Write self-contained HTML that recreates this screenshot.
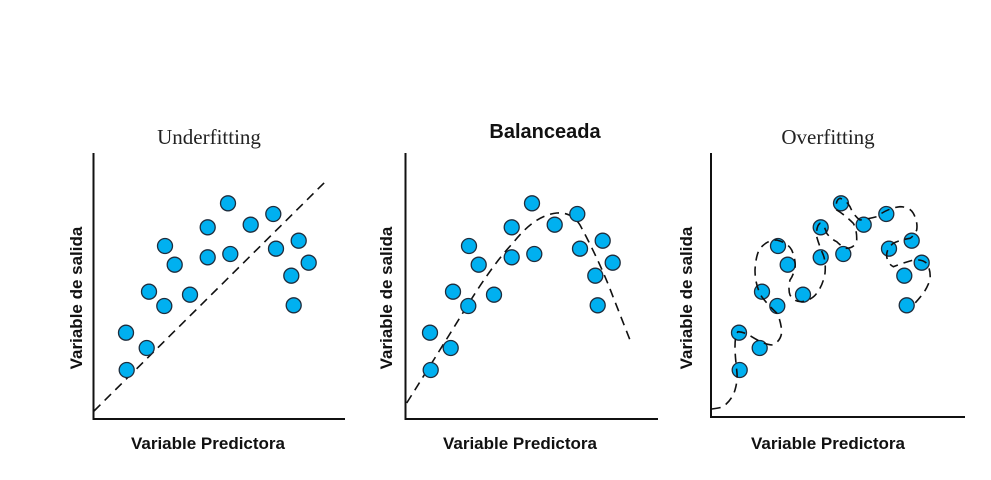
<!DOCTYPE html>
<html><head><meta charset="utf-8"><style>
html,body{margin:0;padding:0;background:#fff;}
svg{display:block;}
.t{font-family:"Liberation Serif",serif;font-size:21px;fill:#222;}
.b{font-family:"Liberation Sans",sans-serif;font-weight:bold;font-size:17px;fill:#111;}
.bt{font-family:"Liberation Sans",sans-serif;font-weight:bold;font-size:20px;fill:#111;}
</style></head><body>
<svg width="991" height="480" viewBox="0 0 991 480" xmlns="http://www.w3.org/2000/svg">
<defs>
<g id="pts" fill="#00b0f0" stroke="#1f2d3d" stroke-width="1.3">
<circle cx="126.7" cy="370" r="7.5"/><circle cx="126" cy="332.7" r="7.5"/><circle cx="146.7" cy="348" r="7.5"/>
<circle cx="149" cy="291.7" r="7.5"/><circle cx="164.3" cy="306" r="7.5"/><circle cx="165" cy="246" r="7.5"/>
<circle cx="174.7" cy="264.7" r="7.5"/><circle cx="190" cy="294.7" r="7.5"/><circle cx="207.7" cy="227.3" r="7.5"/>
<circle cx="207.7" cy="257.3" r="7.5"/><circle cx="228" cy="203.3" r="7.5"/><circle cx="230.3" cy="254" r="7.5"/>
<circle cx="250.7" cy="224.7" r="7.5"/><circle cx="273.3" cy="214" r="7.5"/><circle cx="276" cy="248.7" r="7.5"/>
<circle cx="298.7" cy="240.7" r="7.5"/><circle cx="291.3" cy="275.7" r="7.5"/><circle cx="293.7" cy="305.3" r="7.5"/>
<circle cx="308.7" cy="262.7" r="7.5"/>
</g>
</defs>
<g stroke="#111" stroke-width="2" fill="none">
<path d="M93.5 153 V419 H345"/>
<path d="M405.5 153 V419 H658"/>
<path d="M711 153 V417 H965"/>
</g>
<g stroke="#111" stroke-width="1.6" fill="none" stroke-dasharray="9,6">
<path d="M94 411 L325 182"/>
<path d="M406.7 403 Q440 350 466.7 306.7 T513 243 Q535 215 556.7 213 Q572 212 580 225 Q600 262 613 296.7 L630 340"/>
</g>
<use href="#pts"/>
<use href="#pts" transform="translate(304,0)"/>
<use href="#pts" transform="translate(613,0)"/>
<path stroke="#111" stroke-width="1.6" fill="none" stroke-dasharray="9,6" d="M711.7 409 Q720 408 723 406.7 Q732 400 735 390 Q738 380 736.7 370 Q735 355 735 346.7 Q735 335 738 331.7 Q745 332 751.7 336.7 Q765 345 773 345 Q782 340 781.7 330 Q780 318 776.7 313 Q768 305 761.7 296.7 Q755 285 755 270 Q756 252 761.7 246.7 Q768 240 776.7 240 Q788 243 791.7 250 Q796 260 795 268 Q793 276 790 280 Q788 290 790 295 Q794 302 801.7 301.7 Q812 300 816.7 293.3 Q823 285 825 273.3 Q826 262 823.3 255 Q819 245 816.7 236.7 Q816 226 820 223.3 Q825 226 826.7 233.3 Q831 239 836.7 241.7 Q842 247 846.7 248.3 Q855 248 856.7 240 Q857 230 853.3 223.3 Q845 215 836.7 210 Q835 200 840 198.3 Q846 200 850 206.7 Q854 216 860 220 Q868 219 876.7 216.7 Q888 208 900 206.7 Q910 207 913.3 213.3 Q918 222 916.7 230 Q914 236 910 238.3 Q900 240 893.3 243.3 Q886 249 886.7 256.7 Q888 264 893.3 266.7 Q903 263 913.3 260 Q922 259 926.7 263.3 Q931 270 930 280 Q927 288 923.3 293.3 Q918 300 913.3 305"/>
<text class="t" x="209" y="144" text-anchor="middle">Underfitting</text>
<text class="bt" x="545" y="138" text-anchor="middle">Balanceada</text>
<text class="t" x="828" y="144" text-anchor="middle">Overfitting</text>
<text class="b" x="208" y="449" text-anchor="middle">Variable Predictora</text>
<text class="b" x="520" y="449" text-anchor="middle">Variable Predictora</text>
<text class="b" x="828" y="449" text-anchor="middle">Variable Predictora</text>
<text class="b" transform="translate(82,298) rotate(-90)" text-anchor="middle">Variable de salida</text>
<text class="b" transform="translate(392,298) rotate(-90)" text-anchor="middle">Variable de salida</text>
<text class="b" transform="translate(692,298) rotate(-90)" text-anchor="middle">Variable de salida</text>
</svg>
</body></html>
